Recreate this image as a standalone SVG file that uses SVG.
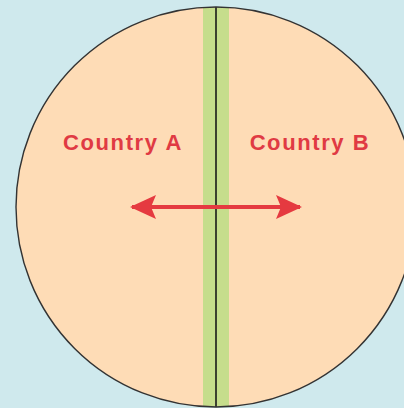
<svg xmlns="http://www.w3.org/2000/svg" width="404" height="408" viewBox="0 0 404 408">
<defs>
<style>
.lbl{font-family:"Liberation Sans",Arial,sans-serif;font-weight:bold;font-size:22px;fill:#e03a43;letter-spacing:1.6px;text-anchor:middle}
</style>
<clipPath id="cc"><circle cx="216" cy="207" r="200"/></clipPath>
<marker id="ah" viewBox="0 0 26 24" refX="24" refY="12" markerWidth="26" markerHeight="24" markerUnits="userSpaceOnUse" orient="auto-start-reverse">
<path d="M0,0 L26,12 L0,24 L5,12 Z" fill="#e53a40"/>
</marker>
</defs>
<rect width="404" height="408" fill="#cfe9ed"/>
<g id="countries">
<circle cx="216" cy="207" r="200" fill="#fedcb6"/>
<rect x="203" y="0" width="26" height="408" fill="#c6dd8c" clip-path="url(#cc)"/>
<line x1="216" y1="7" x2="216" y2="407" stroke="#1a1a1a" stroke-width="1.6"/>
<circle cx="216" cy="207" r="200" fill="none" stroke="#333" stroke-width="1.4"/>
</g>
<g id="countryA"><text class="lbl" x="123" y="150">Country A</text></g>
<g id="countryB"><text class="lbl" x="310" y="150">Country B</text></g>
<g id="connectors">
<line x1="132" y1="207" x2="300" y2="207" stroke="#e53a40" stroke-width="4" marker-start="url(#ah)" marker-end="url(#ah)"/>
</g>
</svg>
